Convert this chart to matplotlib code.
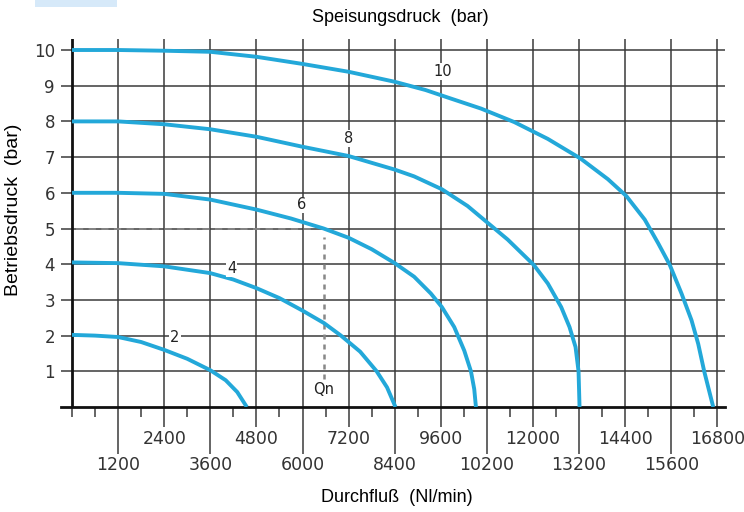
import matplotlib.pyplot as plt
from matplotlib.patches import Rectangle

plt.rcParams['font.family'] = ['Liberation Sans', 'DejaVu Sans']

# curves: Durchfluss (Nl/min) vs Betriebsdruck (bar) for each Speisungsdruck
flow_2 = [0, 600, 1200, 1800, 2400, 3000, 3600, 4000, 4300, 4550]
press_2 = [2.02, 2.0, 1.96, 1.82, 1.6, 1.35, 1.03, 0.75, 0.42, 0.0]

flow_4 = [0, 1200, 2400, 3600, 4200, 4800, 5400, 6000, 6560, 7000, 7500, 7930, 8200, 8420]
press_4 = [4.05, 4.03, 3.94, 3.75, 3.57, 3.33, 3.05, 2.7, 2.35, 2.0, 1.55, 1.0, 0.55, 0.0]

flow_6 = [0, 1200, 2400, 3600, 4800, 5700, 6550, 7200, 7800, 8400, 8905, 9340, 9627, 9949,
          10210, 10384, 10470, 10514]
press_6 = [6.0, 6.0, 5.97, 5.81, 5.53, 5.28, 5.0, 4.74, 4.42, 4.03, 3.65, 3.18, 2.8, 2.24,
           1.58, 1.0, 0.5, 0.0]

flow_8 = [0, 1200, 2400, 3600, 4800, 6000, 7200, 8400, 8905, 9627, 10297, 10819, 11341, 12019,
          12385, 12733, 12950, 13107, 13185, 13211]
press_8 = [8.0, 8.0, 7.92, 7.78, 7.57, 7.29, 7.03, 6.65, 6.46, 6.1, 5.63, 5.16, 4.69, 3.98,
           3.46, 2.8, 2.24, 1.68, 1.0, 0.0]

flow_10 = [0, 1200, 2400, 3600, 4800, 6000, 7200, 8400, 9200, 9862, 10645, 11515, 12385, 13237,
           13951, 14429, 14908, 15256, 15560, 15865, 16126, 16300, 16456, 16691]
press_10 = [10.0, 10.0, 9.98, 9.95, 9.81, 9.61, 9.39, 9.11, 8.88, 8.64, 8.36, 7.98, 7.51, 6.96,
            6.38, 5.91, 5.25, 4.59, 3.98, 3.18, 2.43, 1.77, 1.0, 0.0]

curve_labels = ["2", "4", "6", "8", "10"]
label_x = [2680, 4160, 5980, 7190, 9660]
label_y = [1.96, 3.89, 5.66, 7.53, 9.39]

qn_flow = 6560
qn_press = 5
qn_dash_end = 6270

upper_ticks = [2400, 4800, 7200, 9600, 12000, 14400, 16800]
upper_labels = ["2400", "4800", "7200", "9600", "12000", "14400", "16800"]
lower_ticks = [1200, 3600, 6000, 8400, 10800, 13200, 15600]
lower_labels = ["1200", "3600", "6000", "8400", "10200", "13200", "15600"]
short_ticks = [0, 600, 1800, 3000, 4200, 5400, 6600, 7800, 9000, 10200, 11400, 12600, 13800, 15000, 16200]
y_ticks = [1, 2, 3, 4, 5, 6, 7, 8, 9, 10]

curve_color = "#23a8d9"
grid_color = "#3a3a3a"
tick_font = ['DejaVu Sans']

fig = plt.figure(figsize=(7.44, 5.12), dpi=100)
ax = fig.add_axes([60.5 / 744, 105 / 512, 664.6 / 744, 367.7 / 512])
ax.set_xlim(-300, 17000)
ax.set_ylim(0, 10.3)

for x in lower_ticks + upper_ticks:
    ax.axvline(x, color=grid_color, lw=1.1, zorder=1)
for y in y_ticks:
    ax.axhline(y, color=grid_color, lw=1.1, zorder=1)
ax.axvline(0, color="#111111", lw=2.0, zorder=2)

for flow, press in [(flow_2, press_2), (flow_4, press_4), (flow_6, press_6),
                    (flow_8, press_8), (flow_10, press_10)]:
    ax.plot(flow, press, color=curve_color, lw=2.8, solid_joinstyle="round",
            solid_capstyle="butt", zorder=4)

for text, x, y in zip(curve_labels, label_x, label_y):
    ax.text(x, y, text, ha="center", va="center", fontsize=10.5, family=tick_font,
            color="#222222", zorder=5, bbox=dict(facecolor="white", edgecolor="none", pad=0.6))

ax.hlines(qn_press, 100, qn_dash_end, colors="#888888", lw=1.3, linestyles=(0, (4, 3)), zorder=3)
ax.vlines(qn_flow, 0.78, 4.75, colors="#888888", lw=1.8, linestyles=(0, (2, 2)), zorder=3)
ax.text(qn_flow, 0.5, "Qn", ha="center", va="center", fontsize=10.5, family=tick_font,
        color="#222222", zorder=5, bbox=dict(facecolor="white", edgecolor="none", pad=0.6))

for side in ["top", "right", "left"]:
    ax.spines[side].set_visible(False)
ax.spines["bottom"].set_linewidth(2.0)
ax.spines["bottom"].set_color("#111111")

ax.set_yticks(y_ticks)
ax.set_yticklabels([str(v) for v in y_ticks], family=tick_font)
ax.tick_params(axis="y", length=0, pad=4, labelsize=12, labelcolor="#333333")

ax.set_xticks(upper_ticks, labels=upper_labels, family=tick_font)
ax.set_xticks(lower_ticks, labels=lower_labels, minor=True, family=tick_font)
ax.tick_params(axis="x", which="major", length=14.4, width=1.1, color=grid_color,
               pad=2, labelsize=12.5, labelcolor="#333333")
ax.tick_params(axis="x", which="minor", length=33.5, width=1.1, color=grid_color,
               pad=2, labelsize=12.5, labelcolor="#333333")
ax.vlines(short_ticks, -0.027, 0, transform=ax.get_xaxis_transform(), colors=grid_color,
          lw=1.1, clip_on=False)

fig.text(400 / 744, 1 - 18 / 512, "Speisungsdruck  (bar)", ha="center", va="center", fontsize=13)
fig.text(397 / 744, 1 - 497 / 512, "Durchfluß  (Nl/min)", ha="center", va="center", fontsize=13)
fig.text(14 / 744, 1 - 210 / 512, "Betriebsdruck  (bar)", ha="center", va="center",
         rotation=90, fontsize=14)

fig.patches.append(Rectangle((35, 505), 82, 7, transform=None, facecolor="#d6e9f9",
                             edgecolor="none"))

fig.savefig("out.png", dpi=100)
